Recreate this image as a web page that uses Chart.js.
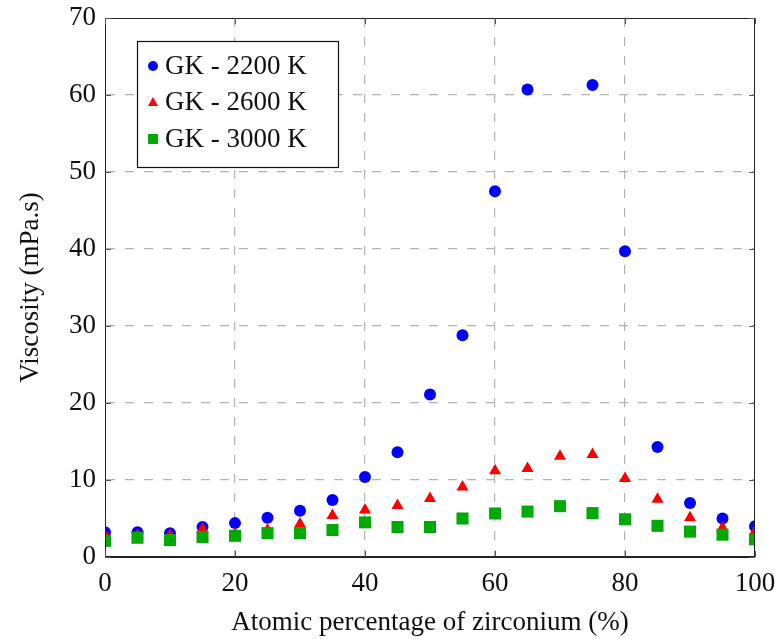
<!DOCTYPE html>
<html>
<head>
<meta charset="utf-8">
<script src="https://cdn.jsdelivr.net/npm/chart.js@4.4.1/dist/chart.umd.min.js"></script>
<style>
  html, body { margin: 0; padding: 0; background: #fff; }
  #wrap { width: 784px; height: 639px; }
</style>
</head>
<body>
<div id="wrap"><canvas id="viscChart" width="784" height="639"></canvas></div>
<script>
// zirconium content (%)
const zrPercent = [0, 5, 10, 15, 20, 25, 30, 35, 40, 45, 50, 55, 60, 65, 70, 75, 80, 85, 90, 95, 100];

// viscosity (mPa.s) per temperature, null = no point
const visc2200 = [3.2, 3.2, 3.1, 3.9, 4.4, 5.1, 6.0, 7.4, 10.4, 13.6, 21.1, 28.8, 47.5, 60.7, null, 61.3, 39.7, 14.3, 7.0, 5.0, 4.0];
const visc2600 = [2.8, 2.8, 2.8, 3.6, 3.0, 3.5, 4.3, 5.4, 6.1, 6.7, 7.6, 9.1, 11.2, 11.5, 13.1, 13.3, 10.2, 7.5, 5.1, 3.8, 3.3];
const visc3000 = [2.1, 2.5, 2.2, 2.6, 2.75, 3.1, 3.1, 3.5, 4.5, 3.9, 3.9, 5.0, 5.65, 5.9, 6.6, 5.7, 4.9, 4.05, 3.3, 2.9, 2.3];

const seriesLabels = ['GK - 2200 K', 'GK - 2600 K', 'GK - 3000 K'];
const xTicks = [0, 20, 40, 60, 80, 100];
const yTicks = [0, 10, 20, 30, 40, 50, 60, 70];

const FONT = '"Liberation Serif", "Times New Roman", serif';

function toPoints(vals) {
  return zrPercent
    .map((x, i) => ({ x: x, y: vals[i] }))
    .filter(p => p.y !== null);
}

// frame on top/right + small ticks pointing inward
const frameTicks = {
  id: 'frameTicks',
  afterDraw(chart) {
    const { ctx, chartArea: a, scales } = chart;
    ctx.save();
    ctx.strokeStyle = '#222';
    ctx.lineWidth = 1;
    ctx.strokeRect(a.left + 0.5, a.top + 0.5, a.right - a.left - 1, a.bottom - a.top - 1);
    const len = 6;
    ctx.beginPath();
    xTicks.forEach(v => {
      const px = Math.round(scales.x.getPixelForValue(v)) + 0.5;
      ctx.moveTo(px, a.bottom); ctx.lineTo(px, a.bottom - len);
      ctx.moveTo(px, a.top); ctx.lineTo(px, a.top + len);
    });
    yTicks.forEach(v => {
      const py = Math.round(scales.y.getPixelForValue(v)) + 0.5;
      ctx.moveTo(a.left, py); ctx.lineTo(a.left + len, py);
      ctx.moveTo(a.right, py); ctx.lineTo(a.right - len, py);
    });
    ctx.strokeStyle = '#555';
    ctx.stroke();
    ctx.restore();
  }
};

// legend box inside the plot, upper left
const boxLegend = {
  id: 'boxLegend',
  afterDraw(chart) {
    const ctx = chart.ctx;
    const bx = 137, by = 41, bw = 201, bh = 126;
    ctx.save();
    ctx.fillStyle = '#fff';
    ctx.fillRect(bx, by, bw, bh);
    ctx.strokeStyle = '#111';
    ctx.lineWidth = 1.2;
    ctx.strokeRect(bx + 0.5, by + 0.5, bw, bh);
    const rows = [66, 102, 139];
    chart.data.datasets.forEach((ds, i) => {
      const y = rows[i], x = 153;
      ctx.fillStyle = ds.backgroundColor;
      ctx.beginPath();
      if (ds.pointStyle === 'circle') {
        ctx.arc(x, y, 5, 0, Math.PI * 2);
      } else if (ds.pointStyle === 'triangle') {
        ctx.moveTo(x, y - 5); ctx.lineTo(x + 5, y + 4); ctx.lineTo(x - 5, y + 4);
        ctx.closePath();
      } else {
        ctx.rect(x - 5, y - 5, 10, 10);
      }
      ctx.fill();
      ctx.fillStyle = '#111';
      ctx.font = '27px ' + FONT;
      ctx.textBaseline = 'middle';
      ctx.textAlign = 'left';
      ctx.fillText(seriesLabels[i], 165, y + 1);
    });
    ctx.restore();
  }
};

const gridColor = edgeVals => c => edgeVals.includes(c.tick.value) ? 'rgba(0,0,0,0)' : '#b4b4b4';

new Chart(document.getElementById('viscChart'), {
  type: 'scatter',
  data: {
    datasets: [
      { label: seriesLabels[0], data: toPoints(visc2200), pointStyle: 'circle', pointRadius: 6,
        backgroundColor: '#0000ff', borderColor: '#0000ff', borderWidth: 0, order: 3 },
      { label: seriesLabels[1], data: toPoints(visc2600), pointStyle: 'triangle', pointRadius: 7,
        backgroundColor: '#ff0000', borderColor: '#ff0000', borderWidth: 0, order: 2 },
      { label: seriesLabels[2], data: toPoints(visc3000), pointStyle: 'rect', pointRadius: 8.5,
        backgroundColor: '#00aa00', borderColor: '#00aa00', borderWidth: 0, order: 1 }
    ]
  },
  options: {
    responsive: false,
    animation: false,
    layout: { padding: { top: 18, right: 29, left: 0, bottom: 0 } },
    plugins: {
      legend: { display: false },
      tooltip: { enabled: false }
    },
    scales: {
      x: {
        type: 'linear', min: 0, max: 100,
        afterFit: s => { s.height = 82; s.paddingLeft = 0; s.paddingRight = 0; },
        afterBuildTicks: s => { s.ticks = xTicks.map(v => ({ value: v })); },
        grid: { color: gridColor([0, 100]), drawTicks: false, lineWidth: 1.2 },
        border: { display: true, color: '#222', width: 1, dash: [9, 10] },
        ticks: { color: '#111', padding: 11, font: { family: FONT, size: 27 } },
        title: { display: true, text: 'Atomic percentage of zirconium (%)', color: '#111',
                 padding: { top: 0, bottom: 0 }, font: { family: FONT, size: 27 } }
      },
      y: {
        type: 'linear', min: 0, max: 70,
        afterFit: s => { s.width = 105; s.paddingTop = 0; s.paddingBottom = 0; },
        afterBuildTicks: s => { s.ticks = yTicks.map(v => ({ value: v })); },
        grid: { color: gridColor([0, 70]), drawTicks: false, lineWidth: 1.2 },
        border: { display: true, color: '#222', width: 1, dash: [9, 10] },
        ticks: { color: '#111', padding: 9, font: { family: FONT, size: 27 } },
        title: { display: true, text: 'Viscosity (mPa.s)', color: '#111',
                 padding: { top: 15, bottom: 0 }, font: { family: FONT, size: 27 } }
      }
    }
  },
  plugins: [frameTicks, boxLegend]
});
</script>
</body>
</html>
